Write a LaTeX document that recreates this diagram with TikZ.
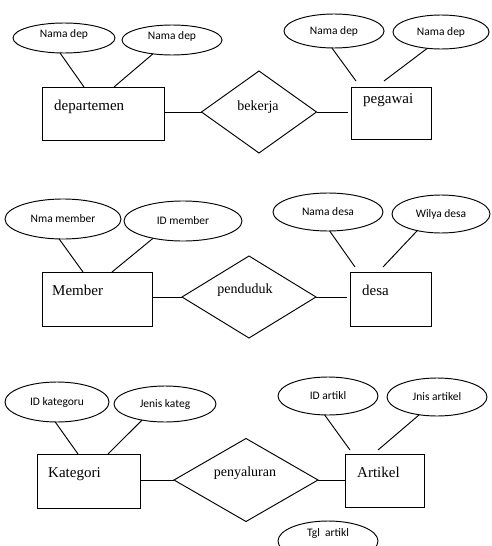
\documentclass[tikz,border=0pt]{standalone}
\usepackage{fontspec}
\setmainfont{Liberation Serif}
\newfontfamily\attrfont{Carlito}
\usetikzlibrary{shapes.geometric,calc}
\tikzset{
  er/.style={line width=0.95pt, draw=black},
  entity/.style={er, rectangle, anchor=north west, inner sep=0pt, outer sep=0pt},
  attr/.style={er, ellipse, inner sep=0pt, outer sep=0pt, font=\attrfont\fontsize{11.5}{13}\selectfont},
  attrtext/.style={font=\attrfont\fontsize{11.5}{13}\selectfont, inner sep=0pt},
  rel/.style={er, diamond, inner sep=0pt, outer sep=0pt},
  ename/.style={anchor=base west, inner sep=0pt, font=\fontsize{15}{17}\selectfont},
  rname/.style={inner sep=0pt, font=\fontsize{14}{16}\selectfont},
  link/.style={line width=0.95pt, black}
}
\begin{document}
\begin{tikzpicture}[x=1pt,y=-1pt]
\useasboundingbox (0,0) rectangle (491,546);

% ---------- departemen -- bekerja -- pegawai ----------
\node[entity, minimum width=122pt, minimum height=53pt] (dep) at (42,87) {};
\node[ename] (depT) at ($(dep.north west)+(12,23)$) {departemen};
\node[entity, minimum width=80pt, minimum height=52pt] (peg) at (351,87) {};
\node[ename] (pegT) at ($(peg.north west)+(12,16)$) {pegawai};
\node[rel, minimum width=115pt, minimum height=82pt] (bek) at (259,112) {};
\node[rname] (bekT) at (258,107) {bekerja};

\node[attr, minimum width=102pt, minimum height=30pt,
      label={[attrtext, yshift=4pt]center:Nama dep}] (a1) at (64,38) {};
\node[attr, minimum width=100pt, minimum height=30pt,
      label={[attrtext, yshift=4pt]center:Nama dep}] (a2) at (172,40) {};
\node[attr, minimum width=100pt, minimum height=34pt] (a3) at (334,31) {Nama dep};
\node[attr, minimum width=96pt, minimum height=34pt] (a4) at (441,32) {Nama dep};

\draw[link] (a1.-105) -- ($(dep.north west)+(42,0)$);
\draw[link] (a2.-144) -- ($(dep.north west)+(72,0)$);
\draw[link] (a3.-97) -- ($(peg.north west)+(5,-6)$);
\draw[link] (a4.-130) -- ($(peg.north west)+(33,-6)$);
\draw[link] (dep.east |- bek.west) -- (bek.west);
\draw[link] (bek.east) -- ($(peg.west |- bek.east)+(-3,0)$);

% ---------- Member -- penduduk -- desa ----------
\node[entity, minimum width=110pt, minimum height=54pt] (mem) at (42,272) {};
\node[ename] (memT) at ($(mem.north west)+(10,23)$) {Member};
\node[entity, minimum width=81pt, minimum height=54pt] (des) at (350,272) {};
\node[ename] (desT) at ($(des.north west)+(12,23)$) {desa};
\node[rel, minimum width=134pt, minimum height=82pt] (pen) at (249,297) {};
\node[rname] (penT) at (245,290) {penduduk};

\node[attr, minimum width=116pt, minimum height=40pt] (a5) at (63,219) {Nma member};
\node[attr, minimum width=118pt, minimum height=40pt] (a6) at (183,221) {ID member};
\node[attr, minimum width=110pt, minimum height=38pt] (a7) at (328,212) {Nama desa};
\node[attr, minimum width=98pt, minimum height=38pt] (a8) at (441,214) {Wilya desa};

\draw[link] (a5.-101) -- ($(mem.north west)+(41,0)$);
\draw[link] (a6.-150) -- ($(mem.north west)+(70,0)$);
\draw[link] (a7.-85) -- ($(des.north west)+(5,-5)$);
\draw[link] (a8.-145) -- ($(des.north west)+(33,-5)$);
\draw[link] (mem.east |- pen.west) -- (pen.west);
\draw[link] (pen.east) -- ($(des.west |- pen.east)+(-3,0)$);

% ---------- Kategori -- penyaluran -- Artikel ----------
\node[entity, minimum width=103pt, minimum height=54pt] (kat) at (37,454) {};
\node[ename] (katT) at ($(kat.north west)+(11,23)$) {Kategori};
\node[entity, minimum width=79pt, minimum height=53pt] (art) at (345,454) {};
\node[ename] (artT) at ($(art.north west)+(12,23)$) {Artikel};
\node[rel, minimum width=144pt, minimum height=83pt] (pny) at (246,480) {};
\node[rname] (pnyT) at (245,473) {penyaluran};

\node[attr, minimum width=104pt, minimum height=40pt] (a9) at (57,402) {ID kategoru};
\node[attr, minimum width=102pt, minimum height=36pt] (a10) at (165,404) {Jenis kateg};
\node[attr, minimum width=100pt, minimum height=38pt] (a11) at (328,396) {ID artikl};
\node[attr, minimum width=100pt, minimum height=38pt] (a12) at (437,397) {Jnis artikel};
\node[attr, minimum width=100pt, minimum height=40pt,
      label={[attrtext, yshift=8pt]center:Tgl\ \ artikl}] (a13) at (328,541) {};

\draw[link] (a9.-95) -- ($(kat.north west)+(41,0)$);
\draw[link] (a10.-145) -- ($(kat.north west)+(71,0)$);
\draw[link] (a11.-100) -- ($(art.north west)+(5,-4)$);
\draw[link] (a12.-135) -- ($(art.north west)+(33,-4)$);
\draw[link] (kat.east |- pny.west) -- (pny.west);
\draw[link] (pny.east) -- (art.west |- pny.east);
\end{tikzpicture}
\end{document}
